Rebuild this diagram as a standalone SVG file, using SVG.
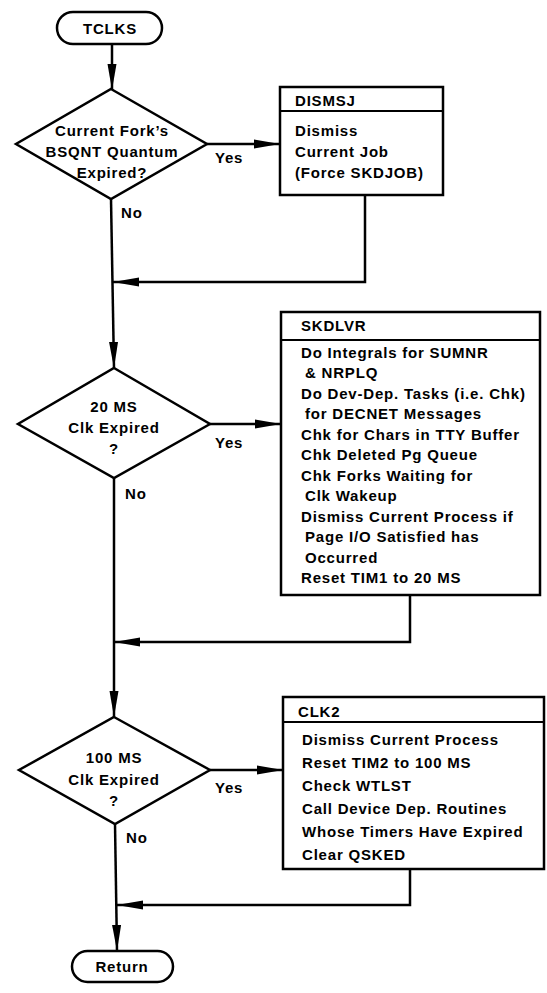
<svg xmlns="http://www.w3.org/2000/svg" width="547" height="993" viewBox="0 0 547 993">
<defs>
<marker id="arr" viewBox="0 0 26 10" refX="26" refY="5" markerWidth="26" markerHeight="10" markerUnits="userSpaceOnUse" orient="auto">
<path d="M0,0.5 L26,5 L0,9.5 z" fill="#000"/>
</marker>
<style>
.shape{fill:#fff;stroke:#000;stroke-width:2.5}
.div{stroke:#000;stroke-width:2.2;fill:none}
.con{fill:none;stroke:#000;stroke-width:2.5;marker-end:url(#arr)}
text{font-family:"Liberation Sans",Arial,sans-serif;font-weight:bold;font-size:15px;letter-spacing:0.8px;fill:#000}
.c{text-anchor:middle}
</style>
</defs>
<rect width="547" height="993" fill="#fff"/>
<g id="connectors">
<path class="con" d="M112,44 L112,90"/>
<path class="con" d="M207,144 L280,144"/>
<path class="con" d="M365,195 L365,282 L113,282"/>
<path class="con" d="M111,199 L114,368"/>
<path class="con" d="M210,424 L281,424"/>
<path class="con" d="M410,595 L410,642 L114,642"/>
<path class="con" d="M114,478 L114,717"/>
<path class="con" d="M210,770 L283,770"/>
<path class="con" d="M410,869 L410,905 L117,905"/>
<path class="con" d="M115,824 L117,951"/>
</g>
<g id="tclks">
<rect class="shape" x="57" y="12" width="105" height="32" rx="16"/>
<text class="c" x="110" y="33.5">TCLKS</text>
</g>
<g id="decision1">
<polygon class="shape" points="111,89 207,144 111,199 16,144"/>
<text class="c" x="112" y="135.5">Current Fork’s</text>
<text class="c" x="112" y="157">BSQNT Quantum</text>
<text class="c" x="112" y="178">Expired?</text>
<text x="215" y="163">Yes</text>
<text x="121" y="217.5">No</text>
</g>
<g id="dismsj">
<rect class="shape" x="280" y="87" width="163" height="108"/>
<line class="div" x1="280" y1="111" x2="443" y2="111"/>
<text x="295" y="105.5">DISMSJ</text>
<text x="295" y="135.5">Dismiss</text>
<text x="295" y="156.5">Current Job</text>
<text x="295" y="177.5">(Force SKDJOB)</text>
</g>
<g id="decision2">
<polygon class="shape" points="114,368 210,424 114,478 18,424"/>
<text class="c" x="114" y="411.5">20 MS</text>
<text class="c" x="114" y="432.5">Clk Expired</text>
<text class="c" x="114" y="453.5">?</text>
<text x="215" y="447.5">Yes</text>
<text x="125" y="498.5">No</text>
</g>
<g id="skdlvr">
<rect class="shape" x="281" y="312" width="259" height="283"/>
<line class="div" x1="281" y1="340" x2="540" y2="340"/>
<text x="301" y="330.5">SKDLVR</text>
<text x="301" y="357.5">Do Integrals for SUMNR</text>
<text x="305" y="378">&amp; NRPLQ</text>
<text x="301" y="398.5">Do Dev-Dep. Tasks (i.e. Chk)</text>
<text x="305" y="419">for DECNET Messages</text>
<text x="301" y="439.5">Chk for Chars in TTY Buffer</text>
<text x="301" y="460">Chk Deleted Pg Queue</text>
<text x="301" y="480.5">Chk Forks Waiting for</text>
<text x="305" y="501">Clk Wakeup</text>
<text x="301" y="521.5">Dismiss Current Process if</text>
<text x="305" y="542">Page I/O Satisfied has</text>
<text x="305" y="562.5">Occurred</text>
<text x="301" y="583">Reset TIM1 to 20 MS</text>
</g>
<g id="decision3">
<polygon class="shape" points="114,717 210,770 115,824 19,770"/>
<text class="c" x="114" y="762.5">100 MS</text>
<text class="c" x="114" y="784.5">Clk Expired</text>
<text class="c" x="114" y="805.5">?</text>
<text x="215" y="792.5">Yes</text>
<text x="126" y="842.5">No</text>
</g>
<g id="clk2">
<rect class="shape" x="283" y="697" width="261" height="172"/>
<line class="div" x1="283" y1="722" x2="544" y2="722"/>
<text x="298" y="716.5">CLK2</text>
<text x="302" y="744.5">Dismiss Current Process</text>
<text x="302" y="767.5">Reset TIM2 to 100 MS</text>
<text x="302" y="790.5">Check WTLST</text>
<text x="302" y="813.5">Call Device Dep. Routines</text>
<text x="302" y="836.5">Whose Timers Have Expired</text>
<text x="302" y="859.5">Clear QSKED</text>
</g>
<g id="return">
<rect class="shape" x="72" y="951" width="101" height="31" rx="15.5"/>
<text class="c" x="122" y="971.5">Return</text>
</g>
</svg>
